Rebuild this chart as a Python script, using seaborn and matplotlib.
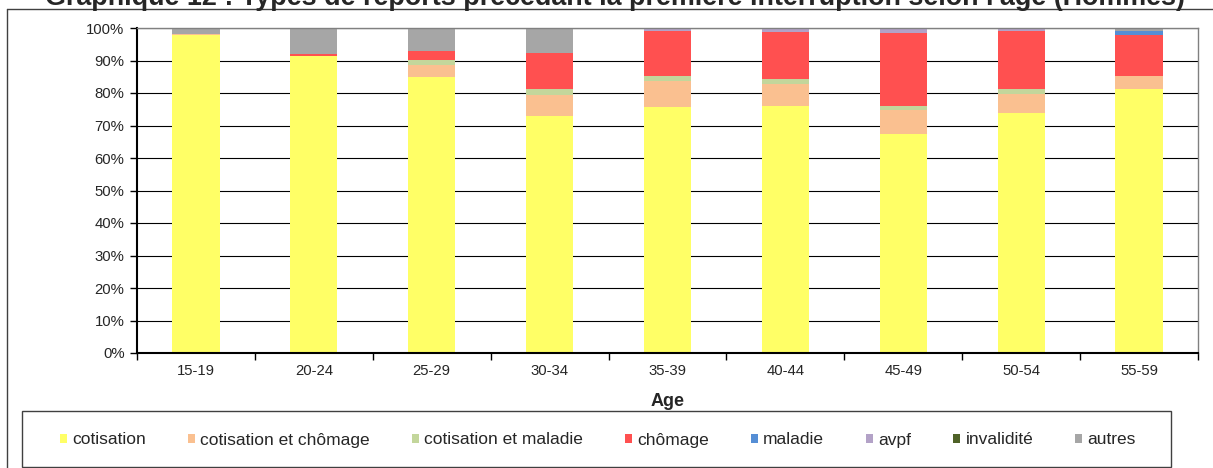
import numpy as np
import matplotlib
matplotlib.use("Agg")
import matplotlib.pyplot as plt
from matplotlib.lines import Line2D
from matplotlib.patches import Rectangle
import seaborn as sns

# --- donnees (en %) ---
ages = ["15-19", "20-24", "25-29", "30-34", "35-39", "40-44", "45-49", "50-54", "55-59"]
cotisation = [97.8, 91.5, 85.0, 72.9, 75.8, 76.1, 67.4, 73.9, 81.1]
cotis_chomage = [0.3, 0.0, 3.5, 6.4, 7.8, 6.8, 7.4, 5.8, 4.2]
cotis_maladie = [0.0, 0.0, 1.7, 1.8, 1.7, 1.4, 1.3, 1.5, 0.0]
chomage = [0.0, 0.5, 2.8, 11.1, 13.9, 14.4, 22.3, 18.0, 12.5]
maladie = [0.0, 0.0, 0.0, 0.0, 0.0, 0.0, 0.0, 0.0, 1.3]
avpf = [0.0, 0.0, 0.0, 0.0, 0.5, 1.0, 1.3, 0.5, 0.0]
invalidite = [0.0, 0.0, 0.0, 0.0, 0.3, 0.0, 0.3, 0.0, 0.0]
autres = [1.9, 8.0, 7.0, 7.8, 0.0, 0.3, 0.0, 0.3, 0.9]

series = [
    ("cotisation", cotisation, "#FFFF66"),
    ("cotisation et chômage", cotis_chomage, "#FAC090"),
    ("cotisation et maladie", cotis_maladie, "#C3D69B"),
    ("chômage", chomage, "#FF5050"),
    ("maladie", maladie, "#558ED5"),
    ("avpf", avpf, "#B3A2C7"),
    ("invalidité", invalidite, "#4F6228"),
    ("autres", autres, "#A6A6A6"),
]

sns.set_style("white")
plt.rcParams["font.family"] = ["Liberation Sans", "DejaVu Sans"]

W, H = 1213, 468
fig = plt.figure(figsize=(W / 100, H / 100), dpi=100)
ax = fig.add_axes([137 / W, 1 - 353 / H, (1198 - 137) / W, (353 - 28) / H])

bottom = np.zeros(len(ages))
for name, vals, col in series:
    sns.barplot(x=ages, y=vals, bottom=bottom, color=col, width=0.4,
                label=name, ax=ax, linewidth=0, saturation=1)
    bottom = bottom + np.array(vals)

ax.set_xlim(-0.5, len(ages) - 0.5)
ax.set_ylim(0, 100)
ax.set_yticks(np.arange(0, 101, 10))
ax.set_yticklabels([f"{v}%" for v in range(0, 101, 10)])
ax.yaxis.grid(True, color="black", lw=0.8)
ax.set_axisbelow(True)

ax.set_xticks(np.arange(-0.5, len(ages), 1), minor=True)
ax.tick_params(axis="x", which="major", length=0, labelsize=10.7, pad=8)
ax.tick_params(axis="x", which="minor", length=5, width=1, direction="out",
               color="black", bottom=True)
ax.tick_params(axis="y", length=5, width=1, direction="out", color="black",
               left=True, labelsize=10.7, pad=4)

for s in ["left", "bottom"]:
    ax.spines[s].set_color("black"); ax.spines[s].set_linewidth(1.5)
for s in ["top", "right"]:
    ax.spines[s].set_color("#808080"); ax.spines[s].set_linewidth(1)

ax.set_xlabel("Age", fontsize=13, fontweight="bold", labelpad=11)
ax.set_ylabel("")

# legende sous le graphique, cadre dessine a part
handles, labels = ax.get_legend_handles_labels()
if ax.get_legend() is not None:
    ax.get_legend().remove()
fig.add_artist(Rectangle((22 / W, 1 - 467 / H), (1171 - 22) / W, (467 - 411) / H,
                         transform=fig.transFigure, fill=False,
                         edgecolor="#404040", lw=1))
fig.legend(handles, labels, ncol=8, mode="expand", loc="center",
           bbox_to_anchor=(60 / W, 1 - 452 / H, (1136 - 60) / W, 24 / H),
           frameon=False, fontsize=12.5,
           handlelength=0.42, handleheight=0.42, handletextpad=0.3,
           borderaxespad=0, borderpad=0)

# titre (coupe en haut comme dans l'original)
fig.text(0.507, 1 - 5 / H,
         "Graphique 12 : Types de reports précédant la première interruption selon l'âge (Hommes)",
         ha="center", va="baseline", fontsize=19.4, fontweight="bold")

# cadre exterieur
fig.add_artist(Line2D([7 / W, 1], [1 - 9 / H] * 2, color="#404040", lw=1))
fig.add_artist(Line2D([7 / W] * 2, [0, 1 - 9 / H], color="#404040", lw=1))

fig.savefig("out.png", dpi=100)
